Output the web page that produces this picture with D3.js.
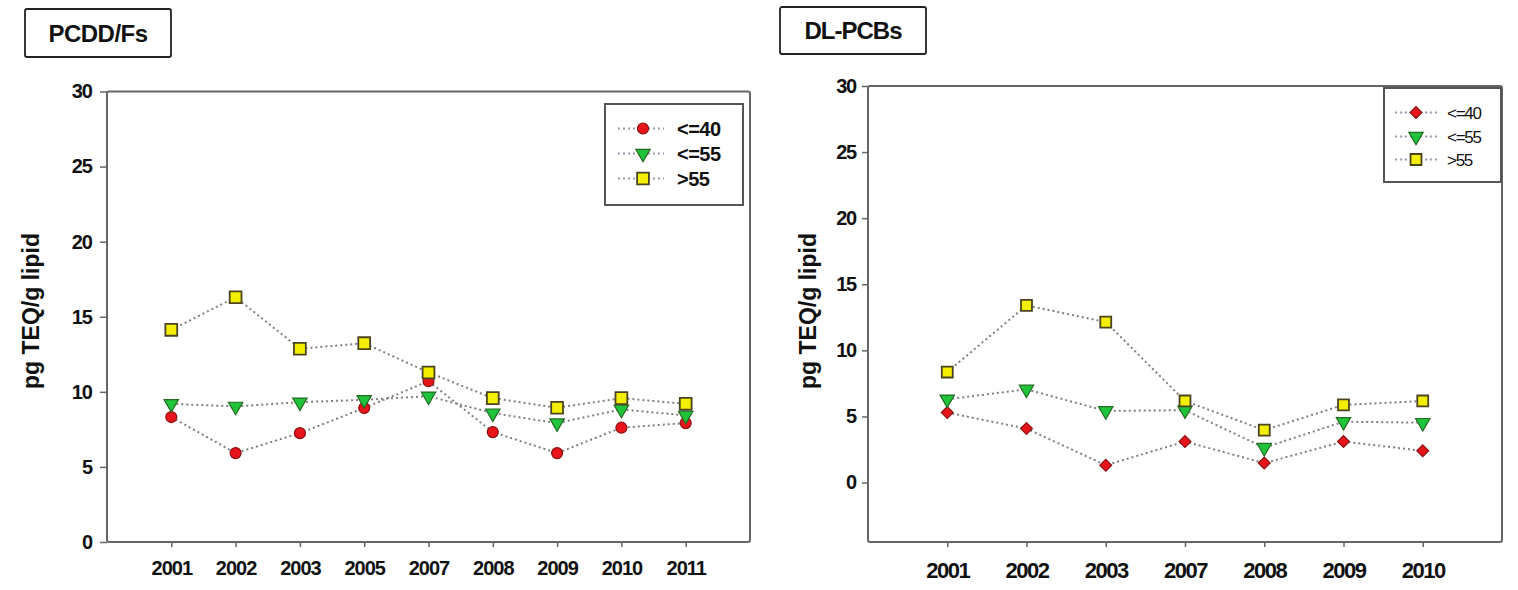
<!DOCTYPE html>
<html>
<head>
<meta charset="utf-8">
<script src="https://cdn.jsdelivr.net/npm/d3@7"></script>
<style>
  body { margin: 0; background: #fff; }
  text { font-family: "Liberation Sans", Arial, sans-serif; fill: #111; }
</style>
</head>
<body>
<svg id="chart" width="1518" height="590"></svg>
<script>
// values
var seriesNames = ["<=40", "<=55", ">55"];
var yTicks = [0, 5, 10, 15, 20, 25, 30];

var pcddYears = ["2001", "2002", "2003", "2005", "2007", "2008", "2009", "2010", "2011"];
var pcddLe40 = [8.32, 5.92, 7.25, 8.92, 10.71, 7.32, 5.92, 7.61, 7.92];
var pcddLe55 = [9.2, 9.03, 9.31, 9.47, 9.71, 8.58, 7.92, 8.83, 8.43];
var pcddGt55 = [14.13, 16.3, 12.87, 13.24, 11.29, 9.58, 8.94, 9.58, 9.2];

var pcbYears = ["2001", "2002", "2003", "2007", "2008", "2009", "2010"];
var pcbLe40 = [5.29, 4.08, 1.31, 3.1, 1.47, 3.1, 2.4];
var pcbLe55 = [6.3, 7.05, 5.42, 5.47, 2.64, 4.6, 4.53];
var pcbGt55 = [8.36, 13.4, 12.14, 6.17, 3.96, 5.87, 6.17];

var fills = ["#e8141c", "#1fc43a", "#f4ee00"];
var strokes = ["#8a1010", "#236b23", "#4a4420"];

var svg = d3.select("#chart");

// circle on the left panel, diamond (turned square) on the right one
function markerPath(i, round) {
  if (i === 0) return d3.symbol().type(round ? d3.symbolCircle : d3.symbolSquare).size(round ? 95 : 70)();
  if (i === 1) return d3.symbol().type(d3.symbolTriangle).size(90)();
  return d3.symbol().type(d3.symbolSquare).size(round ? 140 : 120)();
}

function markerTurn(i, round) {
  if (i === 1) return " rotate(180)";
  if (i === 0 && !round) return " rotate(45)";
  return "";
}

function panel(o) {
  var g = svg.append("g");

  // title box
  g.append("rect")
      .attr("x", o.title.x).attr("y", o.title.y)
      .attr("width", o.title.w).attr("height", o.title.h)
      .attr("rx", 2)
      .attr("fill", "#fff").attr("stroke", "#222").attr("stroke-width", 1.8);
  g.append("text")
      .attr("x", o.title.x + o.title.w / 2).attr("y", o.title.y + o.title.h / 2 + 8.5)
      .attr("text-anchor", "middle")
      .style("font-size", "24px").style("font-weight", "bold")
      .style("letter-spacing", o.title.ls)
      .text(o.title.text);

  var x = d3.scalePoint().domain(o.years).range([o.left, o.right]).padding(1);
  var y = d3.scaleLinear().domain(o.yDomain).range([o.bottom, o.top]);

  // frame
  g.append("rect")
      .attr("x", o.left).attr("y", o.top)
      .attr("width", o.right - o.left).attr("height", o.bottom - o.top)
      .attr("rx", 2)
      .attr("fill", "none").attr("stroke", "#666").attr("stroke-width", 2);

  // y axis
  var yAxis = g.append("g")
      .attr("transform", "translate(" + o.left + ",0)")
      .call(d3.axisLeft(y).tickValues(yTicks).tickSize(o.yTickLen).tickPadding(o.yPad));
  yAxis.select(".domain").remove();
  yAxis.selectAll("line").attr("stroke", "#666").attr("stroke-width", 1.5);
  yAxis.selectAll("text")
      .attr("fill", "#111")
      .style("font-family", "Liberation Sans, Arial, sans-serif")
      .style("font-size", o.tickFont).style("font-weight", "bold")
      .style("letter-spacing", o.tickLs);

  // x axis
  var xAxis = g.append("g")
      .attr("transform", "translate(0," + o.bottom + ")")
      .call(d3.axisBottom(x).tickSize(5).tickPadding(o.xPad));
  xAxis.select(".domain").remove();
  xAxis.selectAll("line").attr("stroke", "#666").attr("stroke-width", 1.5);
  xAxis.selectAll("text")
      .attr("fill", "#111")
      .style("font-family", "Liberation Sans, Arial, sans-serif")
      .style("font-size", o.xFont).style("font-weight", "bold")
      .style("letter-spacing", o.xLs);

  // y title
  g.append("text")
      .attr("transform", "translate(" + o.yTitleX + "," + o.yTitleY + ") rotate(-90)")
      .attr("text-anchor", "middle")
      .style("font-size", "23px").style("font-weight", "bold")
      .text("pg TEQ/g lipid");

  var line = d3.line()
      .x(function(d, i) { return x(o.years[i]); })
      .y(function(d) { return y(d); });

  o.series.forEach(function(vals) {
    g.append("path")
        .attr("d", line(vals))
        .attr("fill", "none")
        .attr("stroke", "#808080")
        .attr("stroke-width", 2)
        .attr("stroke-dasharray", "2,3");
  });

  o.series.forEach(function(vals, si) {
    g.selectAll(".m" + si)
        .data(vals)
      .enter().append("path")
        .attr("d", markerPath(si, o.round))
        .attr("transform", function(d, i) {
          return "translate(" + x(o.years[i]) + "," + y(d) + ")" + markerTurn(si, o.round);
        })
        .attr("fill", fills[si])
        .attr("stroke", strokes[si])
        .attr("stroke-width", si === 2 ? 1.8 : 1.2);
  });

  // legend
  var L = o.legend;
  g.append("rect")
      .attr("x", L.x).attr("y", L.y).attr("width", L.w).attr("height", L.h)
      .attr("fill", "#fff").attr("stroke", "#555").attr("stroke-width", 2);
  seriesNames.forEach(function(name, si) {
    var ry = L.rowY[si];
    g.append("line")
        .attr("x1", L.lx1).attr("x2", L.lx2).attr("y1", ry).attr("y2", ry)
        .attr("stroke", "#9a9ab0").attr("stroke-width", 2).attr("stroke-dasharray", "2,3");
    g.append("path")
        .attr("d", markerPath(si, o.round))
        .attr("transform", "translate(" + L.mx + "," + ry + ")" + markerTurn(si, o.round))
        .attr("fill", fills[si])
        .attr("stroke", strokes[si])
        .attr("stroke-width", si === 2 ? 1.8 : 1.2);
    g.append("text")
        .attr("x", L.tx).attr("y", ry + L.dy)
        .style("font-size", L.font).style("font-weight", L.weight)
        .style("letter-spacing", L.ls)
        .text(name);
  });
}

panel({
  title: { x: 25, y: 9, w: 146, h: 48, text: "PCDD/Fs", ls: "-0.5px" },
  years: pcddYears,
  series: [pcddLe40, pcddLe55, pcddGt55],
  left: 107, right: 750, top: 91.5, bottom: 542,
  yDomain: [0, 30],
  yTickLen: 7, yPad: 8, tickFont: "20px", tickLs: "-1px",
  xPad: 14, xFont: "20px", xLs: "-1px",
  yTitleX: 39, yTitleY: 311,
  round: true,
  legend: { x: 605, y: 104, w: 138, h: 101, rowY: [128.5, 153.5, 178.5],
            lx1: 618, lx2: 664, mx: 643, tx: 677, dy: 7.5, font: "20px", weight: "bold", ls: "-0.5px" }
});

panel({
  title: { x: 780, y: 7, w: 146, h: 47, text: "DL-PCBs", ls: "-1px" },
  years: pcbYears,
  series: [pcbLe40, pcbLe55, pcbGt55],
  left: 868, right: 1502, top: 86, bottom: 542,
  yDomain: [-4.5, 30],
  yTickLen: 6, yPad: 6, tickFont: "20px", tickLs: "-1.2px",
  xPad: 15, xFont: "22px", xLs: "-1.5px",
  yTitleX: 816, yTitleY: 311,
  round: false,
  legend: { x: 1384, y: 88, w: 117, h: 94, rowY: [112.5, 136.5, 159.5],
            lx1: 1395, lx2: 1438, mx: 1416, tx: 1447, dy: 6, font: "17px", weight: "normal", ls: "-1.3px" }
});
</script>
</body>
</html>
